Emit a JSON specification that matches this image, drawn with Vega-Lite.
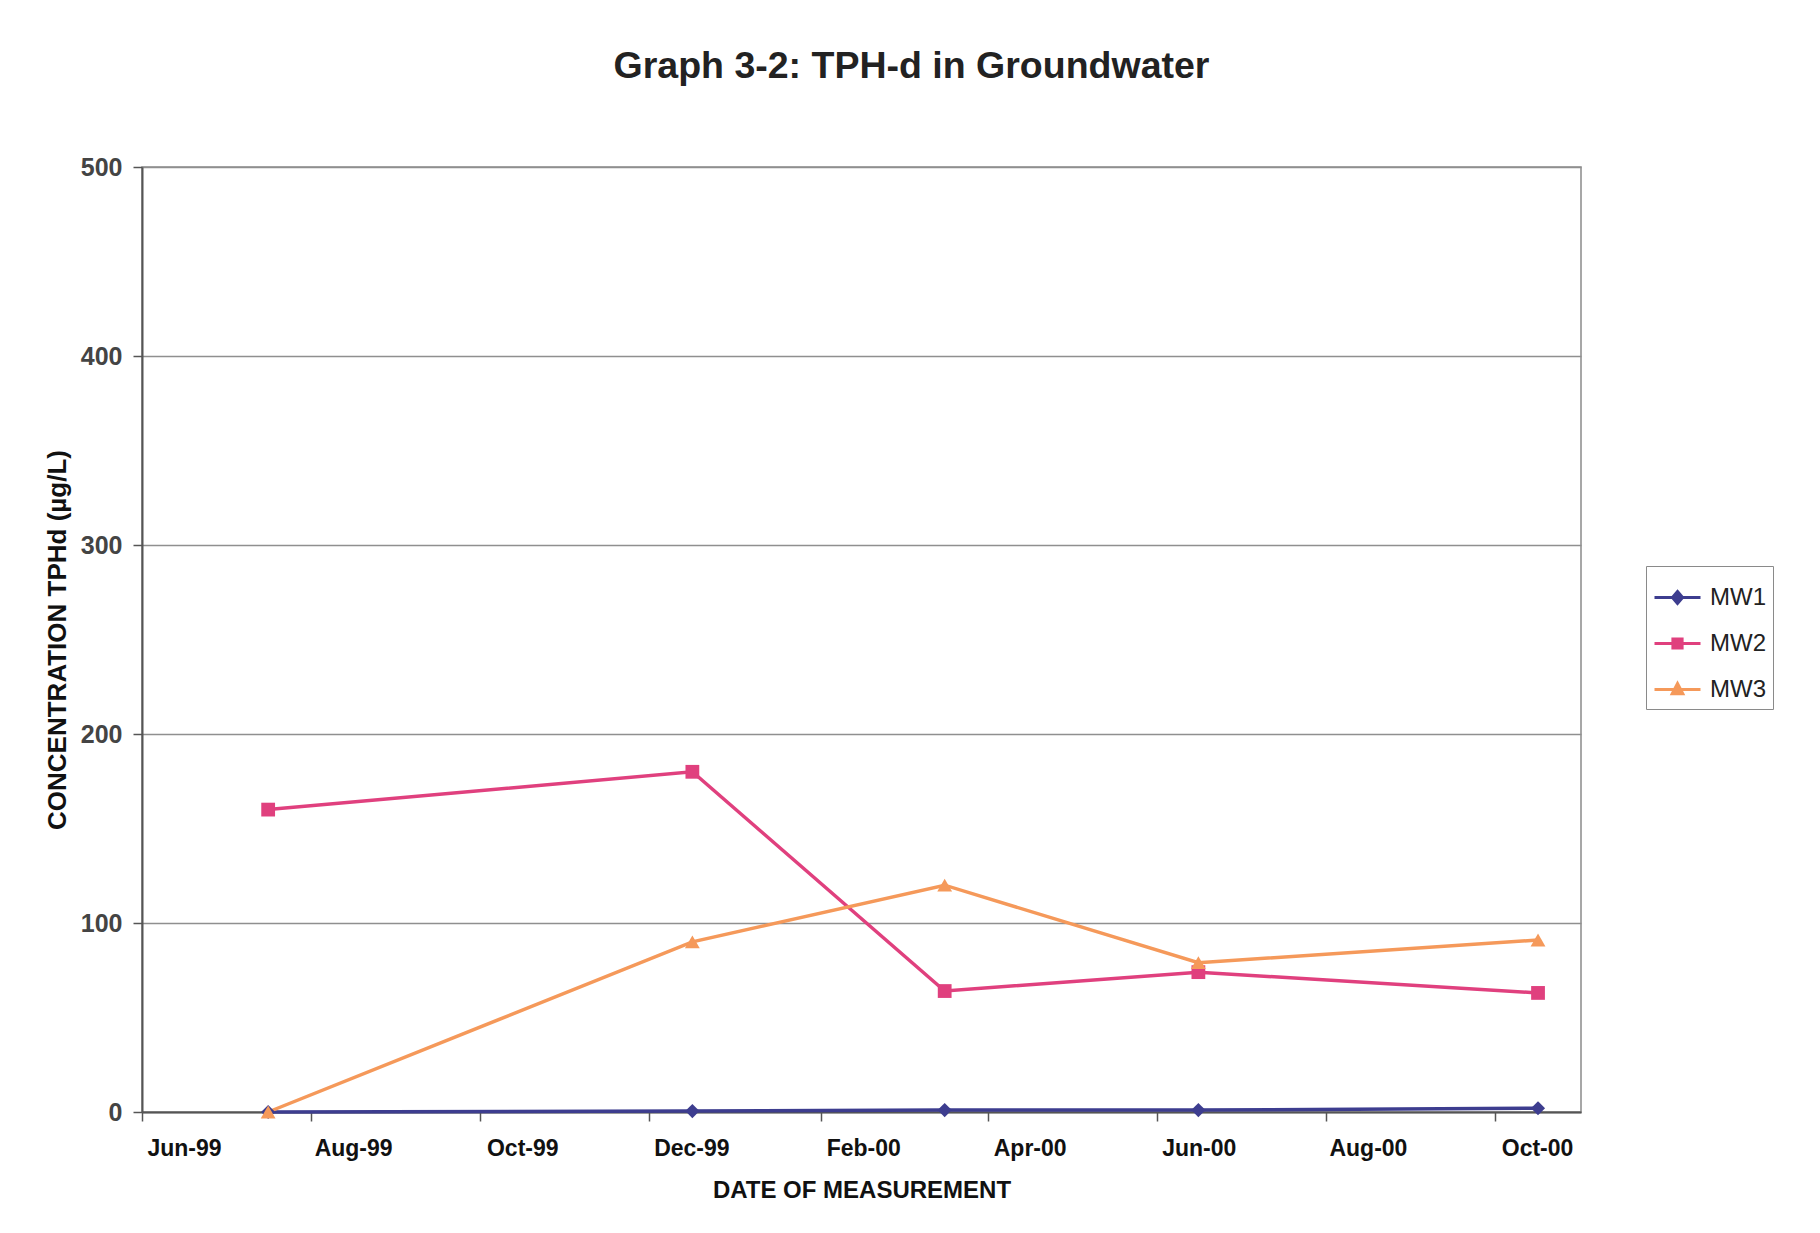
{
  "$schema": "https://vega.github.io/schema/vega-lite/v6.json",
  "autosize": "none",
  "width": 1439,
  "height": 945,
  "padding": {"left": 142, "top": 167, "right": 239, "bottom": 121},
  "background": "white",
  "title": {
    "text": "Graph 3-2: TPH-d in Groundwater",
    "font": "Liberation Sans",
    "fontSize": 37.5,
    "fontWeight": "bold",
    "color": "#222222",
    "anchor": "middle",
    "dx": 50,
    "offset": 70
  },
  "config": {
    "view": {"stroke": "#8a8a8a", "strokeWidth": 1.5},
    "font": "Liberation Sans"
  },
  "data": {
    "values": [
      {"well": "MW1", "date": "1999-07-16T12:00:00", "value": 0},
      {"well": "MW1", "date": "1999-12-16T12:00:00", "value": 0.5},
      {"well": "MW1", "date": "2000-03-16T12:00:00", "value": 1},
      {"well": "MW1", "date": "2000-06-16T00:00:00", "value": 1},
      {"well": "MW1", "date": "2000-10-16T12:00:00", "value": 2},
      {"well": "MW2", "date": "1999-07-16T12:00:00", "value": 160},
      {"well": "MW2", "date": "1999-12-16T12:00:00", "value": 180},
      {"well": "MW2", "date": "2000-03-16T12:00:00", "value": 64},
      {"well": "MW2", "date": "2000-06-16T00:00:00", "value": 74},
      {"well": "MW2", "date": "2000-10-16T12:00:00", "value": 63},
      {"well": "MW3", "date": "1999-07-16T12:00:00", "value": 0},
      {"well": "MW3", "date": "1999-12-16T12:00:00", "value": 90},
      {"well": "MW3", "date": "2000-03-16T12:00:00", "value": 120},
      {"well": "MW3", "date": "2000-06-16T00:00:00", "value": 79},
      {"well": "MW3", "date": "2000-10-16T12:00:00", "value": 91}
    ]
  },
  "encoding": {
    "x": {
      "field": "date",
      "type": "temporal",
      "scale": {
        "domain": [
          {"year": 1999, "month": 6, "date": 1},
          {"year": 2000, "month": 11, "date": 1}
        ]
      },
      "axis": {
        "title": "DATE OF MEASUREMENT",
        "values": [
          {"year": 1999, "month": 6, "date": 1},
          {"year": 1999, "month": 8, "date": 1},
          {"year": 1999, "month": 10, "date": 1},
          {"year": 1999, "month": 12, "date": 1},
          {"year": 2000, "month": 2, "date": 1},
          {"year": 2000, "month": 4, "date": 1},
          {"year": 2000, "month": 6, "date": 1},
          {"year": 2000, "month": 8, "date": 1},
          {"year": 2000, "month": 10, "date": 1}
        ],
        "format": "%b-%y",
        "grid": false,
        "labelOffset": 42,
        "labelFont": "Liberation Sans",
        "labelFontSize": 23,
        "labelFontWeight": "bold",
        "labelColor": "#111111",
        "labelPadding": 16,
        "labelFlush": false,
        "labelOverlap": false,
        "tickSize": 9,
        "tickColor": "#555555",
        "tickWidth": 1.5,
        "domainColor": "#555555",
        "domainWidth": 2,
        "titleFont": "Liberation Sans",
        "titleFontSize": 24,
        "titleFontWeight": "bold",
        "titleColor": "#111111",
        "titlePadding": 18
      }
    },
    "y": {
      "field": "value",
      "type": "quantitative",
      "scale": {"domain": [0, 500], "nice": false},
      "axis": {
        "title": "CONCENTRATION TPHd (µg/L)",
        "values": [0, 100, 200, 300, 400, 500],
        "grid": true,
        "gridColor": "#8f8f8f",
        "gridWidth": 1.5,
        "labelFont": "Liberation Sans",
        "labelFontSize": 25,
        "labelFontWeight": "bold",
        "labelColor": "#444444",
        "labelPadding": 11,
        "tickSize": 9,
        "tickColor": "#555555",
        "tickWidth": 1.5,
        "domainColor": "#555555",
        "domainWidth": 2,
        "titleFont": "Liberation Sans",
        "titleFontSize": 26,
        "titleFontWeight": "bold",
        "titleColor": "#111111",
        "titlePadding": 10
      }
    }
  },
  "layer": [
    {
      "mark": {"type": "line", "strokeWidth": 3.5},
      "encoding": {
        "color": {
          "field": "well",
          "type": "nominal",
          "scale": {"domain": ["MW1", "MW2", "MW3"], "range": ["#3d3d8f", "#e0407e", "#f5995a"]},
          "legend": {
            "title": null,
            "orient": "none",
            "legendX": 1504,
            "legendY": 399,
            "padding": 7,
            "strokeColor": "#8a8a8a",
            "fillColor": "white",
            "symbolSize": 2116,
            "symbolStrokeWidth": 3,
            "labelFont": "Liberation Sans",
            "labelFontSize": 24,
            "labelColor": "#222222",
            "labelOffset": 8,
            "rowPadding": 9,
            "encode": {
              "symbols": {
                "update": {
                  "shape": {"signal": "datum.value === 'MW1' ? 'M-1,0L1,0M0,-0.26L0.22,0L0,0.26L-0.22,0Z' : datum.value === 'MW2' ? 'M-1,0L1,0M-0.2,-0.2L0.2,-0.2L0.2,0.2L-0.2,0.2Z' : 'M-1,0L1,0M0,-0.26L0.23,0.18L-0.23,0.18Z'"},
                  "fill": {"scale": "color", "field": "value"},
                  "stroke": {"scale": "color", "field": "value"},
                  "strokeWidth": {"value": 3},
                  "opacity": {"value": 1}
                }
              }
            }
          }
        }
      }
    },
    {
      "transform": [{"filter": "datum.well === 'MW1'"}],
      "mark": {"type": "point", "shape": "diamond", "filled": true, "opacity": 1, "size": 200},
      "encoding": {"color": {"field": "well", "type": "nominal"}}
    },
    {
      "transform": [{"filter": "datum.well === 'MW2'"}],
      "mark": {"type": "point", "shape": "square", "filled": true, "opacity": 1, "size": 190},
      "encoding": {"color": {"field": "well", "type": "nominal"}}
    },
    {
      "transform": [{"filter": "datum.well === 'MW3'"}],
      "mark": {"type": "point", "shape": "triangle-up", "filled": true, "opacity": 1, "size": 220},
      "encoding": {"color": {"field": "well", "type": "nominal"}}
    }
  ]
}
